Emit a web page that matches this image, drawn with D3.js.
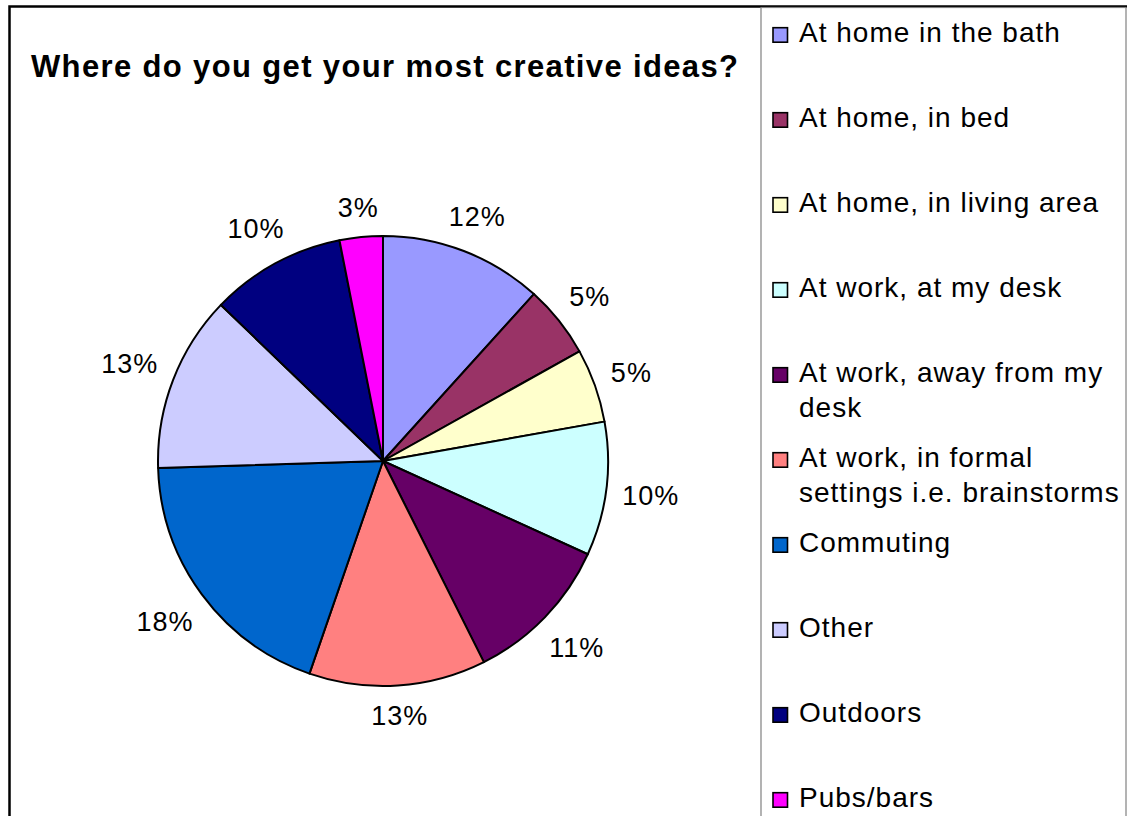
<!DOCTYPE html>
<html>
<head>
<meta charset="utf-8">
<script src="https://cdn.jsdelivr.net/npm/d3@7/dist/d3.min.js"></script>
<style>
  html, body { margin: 0; padding: 0; background: #fff; }
  svg { display: block; font-family: Arial, "Liberation Sans", sans-serif; }
</style>
</head>
<body>
<svg id="chart" width="1127" height="816"></svg>
<script>
// ---- data ----
const categories = [
  "At home in the bath",
  "At home, in bed",
  "At home, in living area",
  "At work, at my desk",
  "At work, away from my desk",
  "At work, in formal settings i.e. brainstorms",
  "Commuting",
  "Other",
  "Outdoors",
  "Pubs/bars"
];
// slice shares (percent of the circle)
const shares = [11.7, 5.2, 5.3, 9.6, 10.8, 12.7, 19.2, 12.7, 9.7, 3.1];
// data labels as printed on the chart
const pctLabels = ["12%", "5%", "5%", "10%", "11%", "13%", "18%", "13%", "10%", "3%"];
const colors = ["#9999FF", "#993366", "#FFFFCC", "#CCFFFF", "#660066",
                "#FF8080", "#0066CC", "#CCCCFF", "#000080", "#FF00FF"];
// legend lines (wrapped as in the picture)
const legendLines = [
  ["At home in the bath"],
  ["At home, in bed"],
  ["At home, in living area"],
  ["At work, at my desk"],
  ["At work, away from my", "desk"],
  ["At work, in formal", "settings i.e. brainstorms"],
  ["Commuting"],
  ["Other"],
  ["Outdoors"],
  ["Pubs/bars"]
];
const title = "Where do you get your most creative ideas?";

// ---- layout ----
const svg = d3.select("#chart");
const cx = 383, cy = 461, R = 225;

// outer chart frame
svg.append("rect")
  .attr("x", 9.5).attr("y", 6.5)
  .attr("width", 1200).attr("height", 900)
  .attr("fill", "#fff").attr("stroke", "#000").attr("stroke-width", 2.5);

// title
svg.append("text")
  .attr("x", 31).attr("y", 76.5)
  .attr("font-size", 31).attr("font-weight", "bold")
  .attr("textLength", 707).attr("lengthAdjust", "spacing")
  .text(title);

// pie
const pie = d3.pie().sort(null).value(d => d).startAngle(0).endAngle(2 * Math.PI);
const arcs = pie(shares);
const arc = d3.arc().innerRadius(0).outerRadius(R);

const g = svg.append("g").attr("transform", `translate(${cx},${cy})`);
g.selectAll("path.slice").data(arcs).enter().append("path")
  .attr("class", "slice")
  .attr("d", arc)
  .attr("fill", (d, i) => colors[i])
  .attr("stroke", "#000")
  .attr("stroke-width", 2)
  .attr("stroke-linejoin", "round");

// data labels outside
const R0 = 240;
const labelFont = 27;
const lbl = g.selectAll("text.pct").data(arcs).enter().append("text")
  .attr("class", "pct")
  .attr("font-size", labelFont)
  .attr("letter-spacing", 1)
  .attr("text-anchor", "middle")
  .text((d, i) => pctLabels[i]);
lbl.each(function(d) {
  const a = (d.startAngle + d.endAngle) / 2;
  const w = this.getComputedTextLength();
  const h = 26;
  const sx = Math.sin(a), sy = -Math.cos(a);
  const dist = R0 + w / 2 * Math.abs(sx) + h / 2 * Math.abs(sy);
  d3.select(this).attr("x", dist * sx).attr("y", dist * sy + 9.7);
});

// legend box
svg.append("rect")
  .attr("x", 761).attr("y", 7.5)
  .attr("width", 365).attr("height", 900)
  .attr("fill", "#fff").attr("stroke", "#808080").attr("stroke-width", 1.2);

const legendBase0 = 41.7, legendStep = 85, lineGap = 35;
const lg = svg.append("g");
const items = lg.selectAll("g.item").data(categories).enter().append("g")
  .attr("class", "item")
  .attr("transform", (d, i) => `translate(0,${legendBase0 + i * legendStep})`);
items.append("rect")
  .attr("x", 773).attr("y", -14)
  .attr("width", 14.5).attr("height", 14.5)
  .attr("fill", (d, i) => colors[i])
  .attr("stroke", "#000").attr("stroke-width", 1.6);
items.each(function(d, i) {
  const t = d3.select(this).append("text")
    .attr("x", 799).attr("y", 0)
    .attr("font-size", 28)
    .attr("letter-spacing", 1);
  legendLines[i].forEach((line, j) => {
    t.append("tspan").attr("x", 799).attr("y", j * lineGap).text(line);
  });
});
</script>
</body>
</html>
